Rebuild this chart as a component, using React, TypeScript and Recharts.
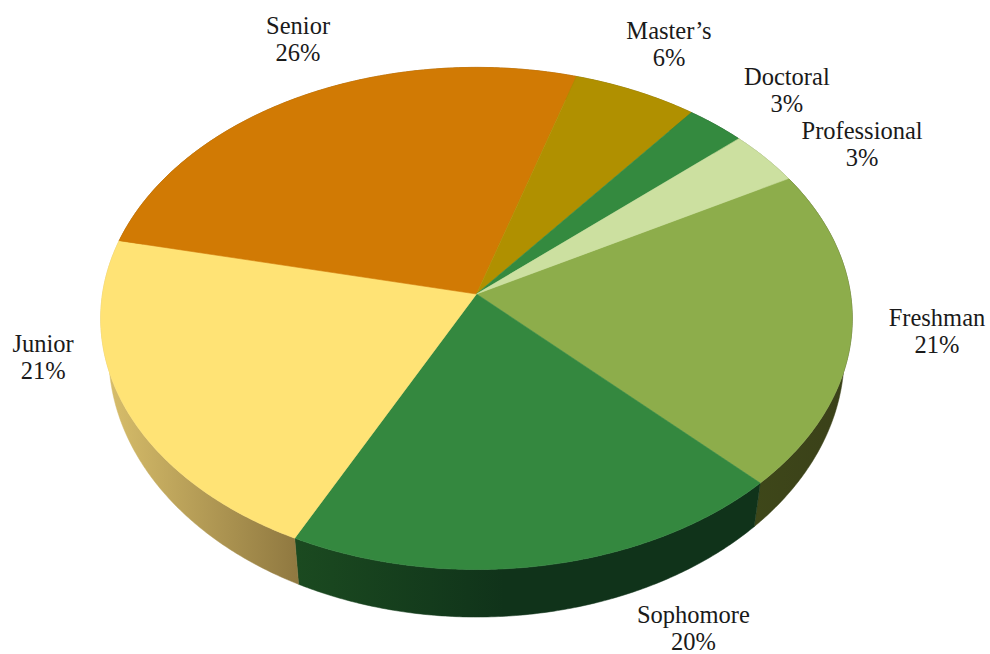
import React from "react";
import { PieChart, Pie } from "recharts";

const categories = ["Freshman", "Sophomore", "Junior", "Senior", "Master’s", "Doctoral", "Professional"];
const values = [20.6, 19.8, 21.2, 26.2, 5.9, 2.8, 3.5];
const percentLabels = ["21%", "20%", "21%", "26%", "6%", "3%", "3%"];
const topColors = ["#8DAD4B", "#34883F", "#FFE375", "#D17A04", "#B09000", "#348A3F", "#CCE0A0"];
const wallLight = ["#3E4719", "#1B4A20", "#DAC06C", "#8A5204", "#6E5A00", "#1B4A20", "#7E8A60"];
const wallDark = ["#3A4019", "#10331A", "#8F7840", "#8A5204", "#6E5A00", "#1B4A20", "#7E8A60"];
const wallDarkStop = ["100%", "45%", "100%", "100%", "100%", "100%", "100%"];

const data = categories.map((name, i) => ({
  name,
  value: values[i],
  percent: percentLabels[i],
  fill: topColors[i],
  light: wallLight[i],
  dark: wallDark[i],
  darkStop: wallDarkStop[i],
}));

const CX = 476.5;
const CY = 294;
const R = 374;
const START = 29.1;
const TILT = 249 / 374.5;
const PERSPECTIVE = 0.0974;
const FLOOR = { rx: 366, ry: 260, cy: 329 };
const LABEL_OFFSETS: [number, number][] = [
  [85, -3], [150, 58], [-81, -54], [-5, -62], [33, -52], [71, -40], [97, -19],
];
const LINE_GAP = 27;
const FONT = "'Liberation Serif', 'Times New Roman', serif";

const unit = (deg: number) => {
  const a = (deg * Math.PI) / 180;
  return { u: Math.cos(a), v: -Math.sin(a) };
};

const projectTop = (deg: number, cx: number, cy: number, r: number) => {
  const { u, v } = unit(deg);
  const w = 1 - PERSPECTIVE * v;
  return [cx + (r * u) / w, cy + (r * TILT * v) / w];
};

const projectFloor = (deg: number, cx: number) => {
  const { u, v } = unit(deg);
  const w = 1 - PERSPECTIVE * v;
  return [cx + (FLOOR.rx * u) / w, FLOOR.cy + (FLOOR.ry * v) / w];
};

const arcAngles = (a: number, b: number) => {
  const n = Math.max(2, Math.ceil(Math.abs(b - a) / 0.5));
  return Array.from({ length: n + 1 }, (_, i) => a + ((b - a) * i) / n);
};

const toPath = (pts: number[][]) =>
  "M" + pts.map((p) => `${p[0].toFixed(2)},${p[1].toFixed(2)}`).join("L") + "Z";

const TopSlice = (props: any) => {
  const { cx, cy, outerRadius, startAngle, endAngle, fill } = props;
  const pts = [[cx, cy], ...arcAngles(startAngle, endAngle).map((d) => projectTop(d, cx, cy, outerRadius))];
  return <path d={toPath(pts)} fill={fill} stroke={fill} strokeWidth={0.6} strokeLinejoin="round" />;
};

const WallSlice = (props: any) => {
  const { cx, cy, outerRadius, startAngle, endAngle, payload } = props;
  const angles = arcAngles(startAngle, endAngle);
  const pts = [
    ...angles.map((d) => projectTop(d, cx, cy, outerRadius)),
    ...angles.slice().reverse().map((d) => projectFloor(d, cx)),
  ];
  const id = `wall-${String(payload?.name ?? props.name).replace(/[^A-Za-z]/g, "")}`;
  const light = payload?.light ?? props.light;
  const dark = payload?.dark ?? props.dark;
  const darkStop = payload?.darkStop ?? props.darkStop;
  return (
    <g>
      <defs>
        <linearGradient id={id} x1="0" y1="0" x2="1" y2="0">
          <stop offset="0%" stopColor={light} />
          <stop offset={darkStop} stopColor={dark} />
        </linearGradient>
      </defs>
      <path d={toPath(pts)} fill={`url(#${id})`} stroke={`url(#${id})`} strokeWidth={0.5} />
    </g>
  );
};

const SliceLabel = (props: any) => {
  const { cx, cy, outerRadius, midAngle, index } = props;
  const [x, y] = projectTop(midAngle, cx, cy, outerRadius);
  const [dx, dy] = LABEL_OFFSETS[index];
  return (
    <text x={x + dx} y={y + dy} textAnchor="middle" fontFamily={FONT} fontSize={24.5} fill="#1a1a1a">
      <tspan x={x + dx}>{categories[index]}</tspan>
      <tspan x={x + dx} dy={LINE_GAP}>{percentLabels[index]}</tspan>
    </text>
  );
};

export default function App() {
  return (
    <div style={{ position: "absolute", left: 0, top: 0, width: 990, height: 654, background: "#fff", overflow: "hidden" }}>
      <PieChart width={990} height={654} margin={{ top: 0, right: 0, bottom: 0, left: 0 }}>
        <Pie
          data={data}
          dataKey="value"
          nameKey="name"
          cx={CX}
          cy={CY}
          innerRadius={0}
          outerRadius={R}
          startAngle={START}
          endAngle={START - 360}
          stroke="none"
          isAnimationActive={false}
          shape={WallSlice}
          label={false}
          labelLine={false}
        />
        <Pie
          data={data}
          dataKey="value"
          nameKey="name"
          cx={CX}
          cy={CY}
          innerRadius={0}
          outerRadius={R}
          startAngle={START}
          endAngle={START - 360}
          stroke="none"
          isAnimationActive={false}
          shape={TopSlice}
          label={SliceLabel}
          labelLine={false}
        />
      </PieChart>
    </div>
  );
}
